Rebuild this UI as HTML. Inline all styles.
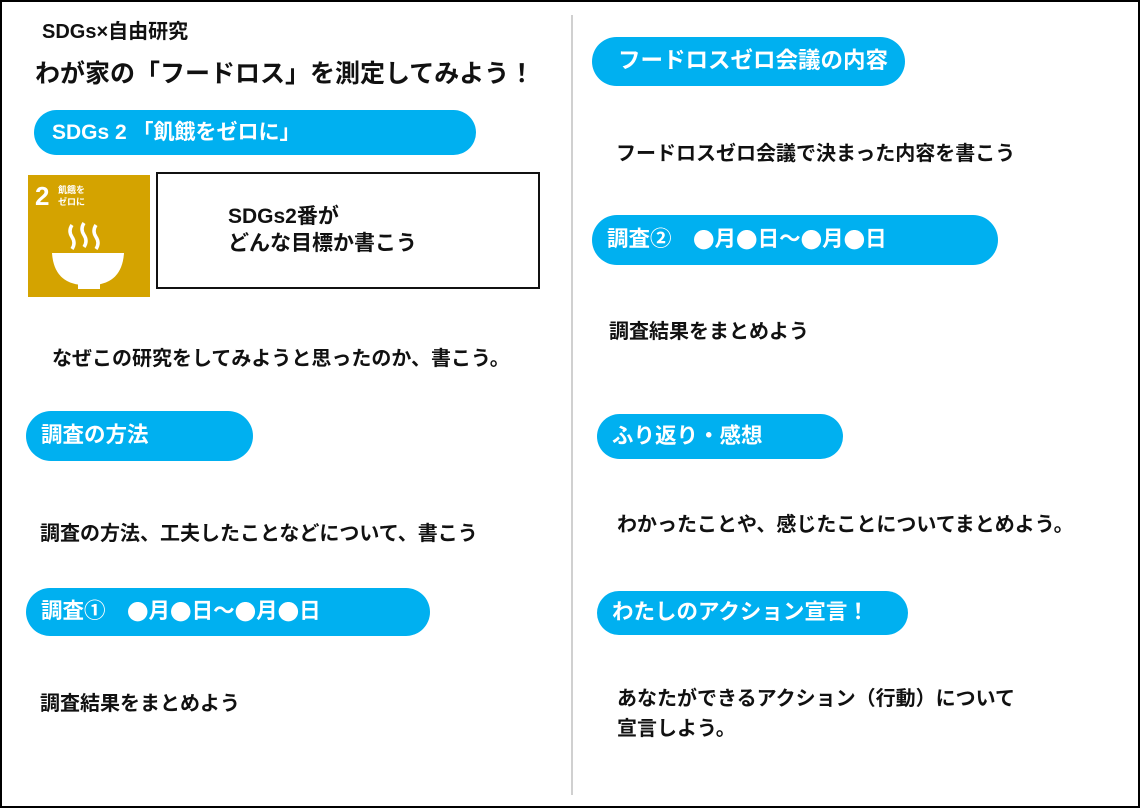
<!DOCTYPE html>
<html><head><meta charset="utf-8">
<style>
*{margin:0;padding:0;box-sizing:border-box}
body{width:1140px;height:808px;background:#fff;position:relative;overflow:hidden;font-family:"Liberation Sans","Noto Sans CJK JP",sans-serif;font-weight:bold;color:#111}
.frame{position:absolute;left:0;top:0;width:1140px;height:808px;border:2px solid #000}
.div{position:absolute;left:571px;top:15px;width:2px;height:780px;background:#d0d0d0}
.pill{position:absolute;background:#00b0f0;border-radius:26px;color:#fff;font-size:21.5px;line-height:1;display:flex;align-items:center;padding-left:15px;white-space:nowrap}
.t{position:absolute;font-size:20px;line-height:1;white-space:nowrap}
.c{font-family:"Noto Sans CJK JP",sans-serif}
</style></head><body>
<div class="frame"></div>
<div class="div"></div>
<div class="t" style="left:42px;top:22px;font-size:20px">SDGs×自由研究</div>
<div class="t" style="left:35px;top:62px;font-size:25px">わが家の「フードロス」を測定してみよう！</div>
<div class="pill" style="left:34px;top:110px;width:442px;height:45px;padding-left:18px;font-size:21px">SDGs 2 「飢餓をゼロに」</div>
<div style="position:absolute;left:28px;top:175px;width:122px;height:122px;background:#d4a300">
 <div style="position:absolute;left:7px;top:8px;color:#fff;font-size:26px;line-height:1">2</div>
 <div style="position:absolute;left:30px;top:9px;color:#fff;font-size:9px;line-height:12px">飢餓を<br>ゼロに</div>
 <svg width="122" height="122" style="position:absolute;left:0;top:0">
  <path d="M44 50 q-4 6 0 12 q4 6 0 12 M56 48 q-4 6 0 12 q4 6 0 12 M68 50 q-4 6 0 12 q4 6 0 12" stroke="#fff" stroke-width="3.5" fill="none"/>
  <path d="M24 78 L96 78 Q94 108 66 110 L54 110 Q26 108 24 78 Z" fill="#fff"/>
  <rect x="50" y="108" width="22" height="6" fill="#fff"/>
 </svg>
</div>
<div style="position:absolute;left:156px;top:172px;width:384px;height:117px;border:2px solid #111"></div>
<div class="t" style="left:228px;top:203px;font-size:21px;line-height:27px">SDGs2番が<br>どんな目標か書こう</div>
<div class="t" style="left:52px;top:349px">なぜこの研究をしてみようと思ったのか、書こう。</div>
<div class="pill" style="left:26px;top:411px;width:227px;height:50px">調査の方法</div>
<div class="t" style="left:40px;top:524px">調査の方法、工夫したことなどについて、書こう</div>
<div class="pill" style="left:26px;top:588px;width:404px;height:48px">調査①　<span class="c">●</span>月<span class="c">●</span>日～<span class="c">●</span>月<span class="c">●</span>日</div>
<div class="t" style="left:40px;top:694px">調査結果をまとめよう</div>

<div class="pill" style="left:592px;top:37px;width:313px;height:49px;padding-left:26px;font-size:22.5px">フードロスゼロ会議の内容</div>
<div class="t" style="left:616px;top:144px">フードロスゼロ会議で決まった内容を書こう</div>
<div class="pill" style="left:592px;top:215px;width:406px;height:50px">調査②　<span class="c">●</span>月<span class="c">●</span>日～<span class="c">●</span>月<span class="c">●</span>日</div>
<div class="t" style="left:609px;top:322px">調査結果をまとめよう</div>
<div class="pill" style="left:597px;top:414px;width:246px;height:45px">ふり返り・感想</div>
<div class="t" style="left:617px;top:515px">わかったことや、感じたことについてまとめよう。</div>
<div class="pill" style="left:597px;top:591px;width:311px;height:44px">わたしのアクション宣言！</div>
<div class="t" style="left:617px;top:684px;line-height:30px">あなたができるアクション（行動）について<br>宣言しよう。</div>
</body></html>
